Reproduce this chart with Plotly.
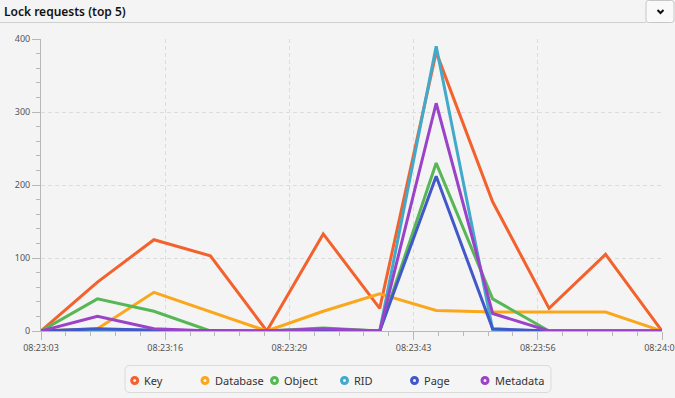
import plotly.graph_objects as go

# ---- data ----
times = ["08:23:03", "08:23:09", "08:23:15", "08:23:21", "08:23:27", "08:23:33",
         "08:23:39", "08:23:45", "08:23:51", "08:23:57", "08:24:03", "08:24:09"]
key = [0, 67, 125, 103, 0, 133, 31, 382, 177, 31, 105, 0]
database = [0, 3, 53, 26, 0, 27, 51, 28, 26, 26, 26, 0]
obj = [0, 44, 27, 0, 0, 4, 0, 230, 44, 0, 0, 0]
rid = [0, 2, 1, 0, 0, 1, 0, 390, 2, 0, 0, 0]
page = [0, 3, 1, 0, 0, 1, 0, 212, 3, 0, 0, 0]
metadata = [0, 20, 3, 0, 0, 3, 0, 312, 24, 0, 0, 0]
series_names = ["Key", "Database", "Object", "RID", "Page", "Metadata"]
x_tick_labels = ["08:23:03", "08:23:16", "08:23:29", "08:23:43", "08:23:56", "08:24:09"]
y_tick_vals = [0, 100, 200, 300, 400]

colors = ["#f3622d", "#fba71b", "#57b757", "#41a9c9", "#4258c9", "#9a42c8"]
series = [key, database, obj, rid, page, metadata]


def to_sec(t):
    h, m, s = map(int, t.split(":"))
    return h * 3600 + m * 60 + s


t0 = to_sec(times[0])
xs = [to_sec(t) - t0 for t in times]
span = xs[-1] - xs[0]
n_major = len(x_tick_labels) - 1
x_dtick = span / n_major
alias = {f"{x_dtick * i:.1f}": lab for i, lab in enumerate(x_tick_labels)}

W, H = 675, 398
L, R, T, B = 41, 662, 39, 331  # plot area pixel bounds


def px(x):
    return (x - L) / (R - L)


def py(y):
    return (B - y) / (B - T)


fig = go.Figure()
for name, vals, c in zip(series_names, series, colors):
    fig.add_trace(go.Scatter(x=xs, y=vals, name=name, mode="lines",
                             line=dict(color=c, width=3), showlegend=False,
                             hoverinfo="y+name"))

BG = "#f4f4f4"
GRID = "#dcdcdc"
AX = "#b8b8b8"
FONT = "Noto Sans"

shapes = []
annotations = []


def rrect(x0, x1, y0, y1, r):
    return (f"M {px(x0 + r)},{py(y0)} L {px(x1 - r)},{py(y0)} "
            f"Q {px(x1)},{py(y0)} {px(x1)},{py(y0 + r)} L {px(x1)},{py(y1 - r)} "
            f"Q {px(x1)},{py(y1)} {px(x1 - r)},{py(y1)} L {px(x0 + r)},{py(y1)} "
            f"Q {px(x0)},{py(y1)} {px(x0)},{py(y1 - r)} L {px(x0)},{py(y0 + r)} "
            f"Q {px(x0)},{py(y0)} {px(x0 + r)},{py(y0)} Z")


# title bar separator line
shapes.append(dict(type="line", xref="paper", yref="paper",
                   x0=px(0), x1=px(646), y0=py(22.5), y1=py(22.5),
                   line=dict(color="#cfcfcf", width=1)))
# dropdown button
shapes.append(dict(type="path", xref="paper", yref="paper",
                   path=rrect(646, 674, 0.5, 22.5, 2.5),
                   fillcolor="#f9f9f9", line=dict(color="#c6c6c6", width=1)))
shapes.append(dict(type="path", xref="paper", yref="paper",
                   path=f"M {px(657.5)},{py(10)} L {px(660.5)},{py(13)} L {px(663.5)},{py(10)}",
                   line=dict(color="#111111", width=2)))

# legend box
shapes.append(dict(type="path", xref="paper", yref="paper",
                   path=rrect(125, 551, 365.5, 392.5, 5),
                   fillcolor="#f5f5f5", line=dict(color="#dadada", width=1)))

leg_x = [134.7, 205, 274.5, 344.5, 414.5, 485]
leg_y = 380.5
for name, c, lxp in zip(series_names, colors, leg_x):
    shapes.append(dict(type="circle", xref="paper", yref="paper",
                       xsizemode="pixel", ysizemode="pixel",
                       xanchor=px(lxp), yanchor=py(leg_y),
                       x0=-3, x1=3, y0=-3, y1=3,
                       fillcolor="#f5f5f5", line=dict(color=c, width=3)))
    annotations.append(dict(xref="paper", yref="paper", x=px(lxp + 7.5), y=py(leg_y),
                            xanchor="left", yanchor="middle", showarrow=False,
                            text=name, font=dict(family=FONT, size=11, color="#333333")))

fig.update_layout(
    width=W, height=H, autosize=False,
    margin=dict(l=L, r=W - R, t=T, b=H - B, pad=0, autoexpand=False),
    paper_bgcolor=BG, plot_bgcolor=BG,
    showlegend=False,
    title=dict(text="Lock requests (top 5)", xref="container", yref="container",
               x=4 / W, xanchor="left", y=1 - 11.5 / H, yanchor="middle",
               font=dict(family=FONT, size=12, color="#111111", weight=600)),
    xaxis=dict(range=[xs[0], xs[-1]], tickmode="linear", tick0=xs[0], dtick=x_dtick,
               tickformat=".1f", labelalias=alias, ticklabeloverflow="allow",
               automargin=False,
               showgrid=True, gridcolor=GRID, griddash="4px,3px", gridwidth=1,
               zeroline=False, showline=True, linecolor=AX, linewidth=1,
               ticks="outside", ticklen=8, tickcolor=AX, tickwidth=1,
               minor=dict(dtick=x_dtick / 5, tick0=xs[0], ticks="outside", ticklen=4,
                          tickcolor=AX, showgrid=False),
               tickfont=dict(family=FONT, size=9, color="#555555")),
    yaxis=dict(range=[0, 400], tickvals=y_tick_vals, automargin=False,
               showgrid=True, gridcolor=GRID, griddash="4px,3px", gridwidth=1,
               zeroline=False, showline=True, linecolor=AX, linewidth=1,
               ticks="outside", ticklen=8, tickcolor=AX, tickwidth=1,
               minor=dict(dtick=20, ticks="outside", ticklen=4,
                          tickcolor=AX, showgrid=False),
               tickfont=dict(family=FONT, size=9, color="#555555")),
    shapes=shapes, annotations=annotations,
)

fig.write_html("out.html", config={"displayModeBar": False},
               post_script="document.body.style.margin='0';")
